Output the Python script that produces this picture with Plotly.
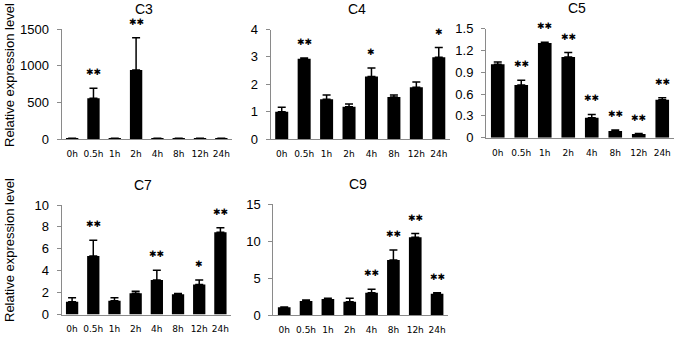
import plotly.graph_objects as go

W, H = 675, 341

categories = ["0h", "0.5h", "1h", "2h", "4h", "8h", "12h", "24h"]

c3_vals = [8, 555, 8, 941, 8, 8, 8, 8]
c3_errtop = [10, 691, 10, 1382, 10, 10, 10, 10]
c3_sig = ["", "**", "", "**", "", "", "", ""]

c4_vals = [1.0, 2.93, 1.45, 1.18, 2.28, 1.53, 1.89, 2.99]
c4_errtop = [1.16, 2.96, 1.61, 1.28, 2.59, 1.61, 2.08, 3.34]
c4_sig = ["", "**", "", "", "*", "", "", "*"]

c5_vals = [1.01, 0.725, 1.30, 1.11, 0.275, 0.092, 0.05, 0.52]
c5_errtop = [1.04, 0.79, 1.31, 1.17, 0.32, 0.105, 0.056, 0.55]
c5_sig = ["", "**", "**", "**", "**", "**", "**", "**"]

c7_vals = [1.16, 5.35, 1.25, 1.95, 3.14, 1.86, 2.74, 7.5]
c7_errtop = [1.52, 6.77, 1.52, 2.13, 4.05, 1.92, 3.14, 7.93]
c7_sig = ["", "**", "", "", "**", "", "*", "**"]

c9_vals = [1.05, 1.9, 2.17, 1.81, 3.03, 7.46, 10.53, 2.89]
c9_errtop = [1.1, 2.03, 2.26, 2.26, 3.48, 8.81, 11.03, 3.03]
c9_sig = ["", "", "", "", "**", "**", "**", "**"]

panels = [
    # name, values, errtop, sig, yrange, dtick, x px domain, y px domain (top, bottom)
    ("C3", c3_vals, c3_errtop, c3_sig, 1500, 500, (61.5, 232), (29, 139)),
    ("C4", c4_vals, c4_errtop, c4_sig, 4, 1, (270.5, 450), (29.5, 139)),
    ("C5", c5_vals, c5_errtop, c5_sig, 1.5, 0.3, (486, 674), (28.5, 137.7)),
    ("C7", c7_vals, c7_errtop, c7_sig, 10, 2, (61.5, 231), (205, 314.5)),
    ("C9", c9_vals, c9_errtop, c9_sig, 15, 5, (273.3, 448), (204.3, 315)),
]


def px_x(v):
    return v / W


def px_y(v):
    return 1 - v / H


fig = go.Figure()
annotations = []
AX = "#8a8a8a"
STAR = "\u2731"

for i, (name, vals, errtop, sig, ymax, dtick, xd, yd) in enumerate(panels):
    n = "" if i == 0 else str(i + 1)
    xa, ya = "x" + n, "y" + n
    up = [max(e - v, 0) for v, e in zip(vals, errtop)]
    fig.add_trace(go.Bar(
        x=categories, y=vals, xaxis=xa, yaxis=ya,
        marker=dict(color="black", line=dict(width=0)),
        width=0.58,
        error_y=dict(type="data", array=up, arrayminus=[0] * len(up), symmetric=False,
                     color="black", thickness=1.5, width=4),
        showlegend=False, hoverinfo="skip",
    ))
    xdom = [px_x(xd[0]), px_x(xd[1])]
    ydom = [px_y(yd[1]), px_y(yd[0])]
    fig.layout["xaxis" + n] = dict(
        domain=xdom, anchor=ya, type="category", range=[-0.5, 7.5],
        showline=True, linecolor=AX, linewidth=1, ticks="", showgrid=False,
        tickfont=dict(family="DejaVu Sans", size=9, color="black"),
        ticklabelstandoff=6, fixedrange=True, automargin=False,
    )
    fig.layout["yaxis" + n] = dict(
        domain=ydom, anchor=xa, range=[0, ymax], dtick=dtick, tick0=0,
        showline=True, linecolor=AX, linewidth=1, ticks="outside", ticklen=4,
        tickcolor=AX, showgrid=False, zeroline=False,
        tickfont=dict(family="Liberation Sans, Arial", size=13, color="black"),
        ticklabelstandoff=5, fixedrange=True, automargin=False,
    )
    # panel title
    annotations.append(dict(
        text=name, xref="paper", yref="paper",
        x=px_x((xd[0] + xd[1]) / 2 - 3), y=px_y(yd[0] - 20),
        xanchor="center", yanchor="middle", showarrow=False,
        font=dict(family="Liberation Sans, Arial", size=14, color="black"),
    ))
    for c, e, s in zip(categories, errtop, sig):
        if s:
            annotations.append(dict(
                text=STAR * len(s), x=c, y=e, xref=xa, yref=ya,
                xanchor="center", yanchor="middle", yshift=16, showarrow=False,
                font=dict(family="DejaVu Sans", size=9, color="black"),
            ))

for yc in (75, 250):
    annotations.append(dict(
        text="Relative expression level", xref="paper", yref="paper",
        x=px_x(9), y=px_y(yc), xanchor="center", yanchor="middle",
        textangle=-90, showarrow=False,
        font=dict(family="Liberation Sans, Arial", size=13, color="black"),
    ))

fig.update_layout(
    width=W, height=H, margin=dict(l=0, r=0, t=0, b=0),
    paper_bgcolor="white", plot_bgcolor="white",
    annotations=annotations, bargap=0.42,
)

fig.write_html(
    "out.html",
    config={"displayModeBar": False},
    post_script="document.body.style.margin='0';document.body.style.overflow='hidden';",
)
